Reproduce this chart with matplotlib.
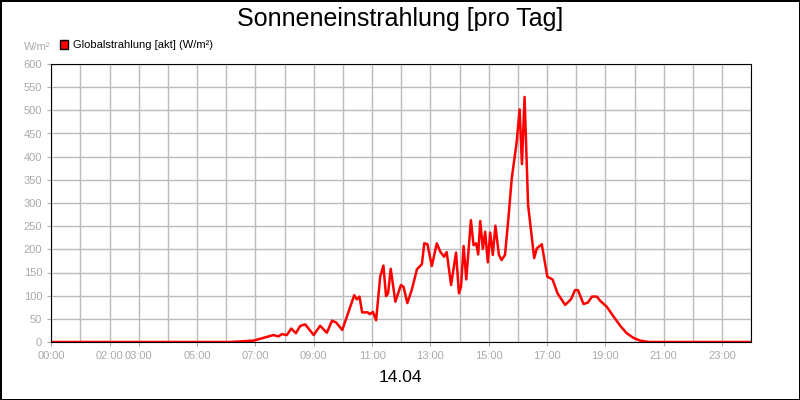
import matplotlib.pyplot as plt
import numpy as np

plt.rcParams['font.family'] = ['Liberation Sans', 'DejaVu Sans']

# Stunden / Werte (W/m²)
stunden = [0, 6.14, 6.94, 7.62, 7.79, 7.91, 8.08, 8.23, 8.39, 8.54, 8.71, 9.0, 9.22, 9.45, 9.63,
           9.77, 9.98, 10.39, 10.48, 10.57, 10.66, 10.85, 10.92, 11.03, 11.14, 11.28, 11.39,
           11.48, 11.55, 11.64, 11.8, 11.99, 12.08, 12.21, 12.36, 12.54, 12.71, 12.79, 12.9,
           13.05, 13.22, 13.34, 13.47, 13.56, 13.71, 13.88, 13.98, 14.05, 14.14, 14.23, 14.39,
           14.48, 14.57, 14.64, 14.71, 14.8, 14.88, 14.97, 15.05, 15.14, 15.23, 15.35, 15.44,
           15.56, 15.68, 15.79, 15.96, 16.06, 16.14, 16.23, 16.35, 16.56, 16.65, 16.82, 17.01,
           17.19, 17.36, 17.62, 17.82, 17.96, 18.06, 18.25, 18.4, 18.54, 18.71, 18.82, 19.05,
           19.28, 19.51, 19.73, 19.96, 20.19, 20.5, 24]
werte = [0, 0, 3, 15, 12, 17, 15, 29, 19, 35, 38, 15, 35, 20, 46,
         42, 26, 101, 92, 98, 64, 64, 60, 65, 47, 141, 165,
         99, 105, 158, 87, 123, 119, 84, 112, 157, 168, 213, 211,
         164, 213, 195, 184, 194, 123, 193, 105, 119, 207, 135, 263,
         209, 213, 189, 261, 201, 238, 172, 236, 188, 251, 188, 177,
         188, 270, 353, 432, 502, 384, 529, 296, 181, 202, 211, 141,
         135, 105, 80, 92, 112, 112, 82, 85, 98, 98, 89, 76,
         55, 35, 19, 9, 3, 0, 0]
xtick_pos = [0, 2, 3, 5, 7, 9, 11, 13, 15, 17, 19, 21, 23]
xtick_lab = ['00:00', '02:00', '03:00', '05:00', '07:00', '09:00', '11:00',
             '13:00', '15:00', '17:00', '19:00', '21:00', '23:00']

fig = plt.figure(figsize=(8, 4), dpi=100)
fig.patch.set_edgecolor('black')
fig.patch.set_linewidth(2)
ax = fig.add_axes([0.064, 0.145, 0.875, 0.695])
ax.plot(stunden, werte, color='red', lw=1.8)
ax.set_xlim(0, 24)
ax.set_ylim(0, 600)
ax.set_xticks(np.arange(0, 25, 1), minor=True)
ax.set_xticks(xtick_pos)
ax.set_xticklabels(xtick_lab)
ax.set_yticks(np.arange(0, 601, 50))
ax.grid(which='both', color='#bbbbbb', lw=1)
ax.tick_params(which='both', colors='#aaaaaa', labelsize=8, length=3)
ax.tick_params(axis='x', which='minor', length=0)
for s in ax.spines.values():
    s.set_color('black')
ax.set_axisbelow(True)

fig.text(0.5, 0.953, 'Sonneneinstrahlung [pro Tag]', ha='center', va='center', fontsize=18)
fig.text(0.5, 0.055, '14.04', ha='center', va='center', fontsize=12.5)
fig.text(0.03, 0.883, 'W/m²', ha='left', va='center', fontsize=8, color='#aaaaaa')
fig.legend(loc='upper left', bbox_to_anchor=(0.062, 0.925), frameon=False, fontsize=8,
           handlelength=0.8, handleheight=0.8, handletextpad=0.4,
           handles=[plt.Rectangle((0, 0), 1, 1, fc='red', ec='black')],
           labels=['Globalstrahlung [akt] (W/m²)'])
fig.savefig('out.png', dpi=100, edgecolor=fig.get_edgecolor())
